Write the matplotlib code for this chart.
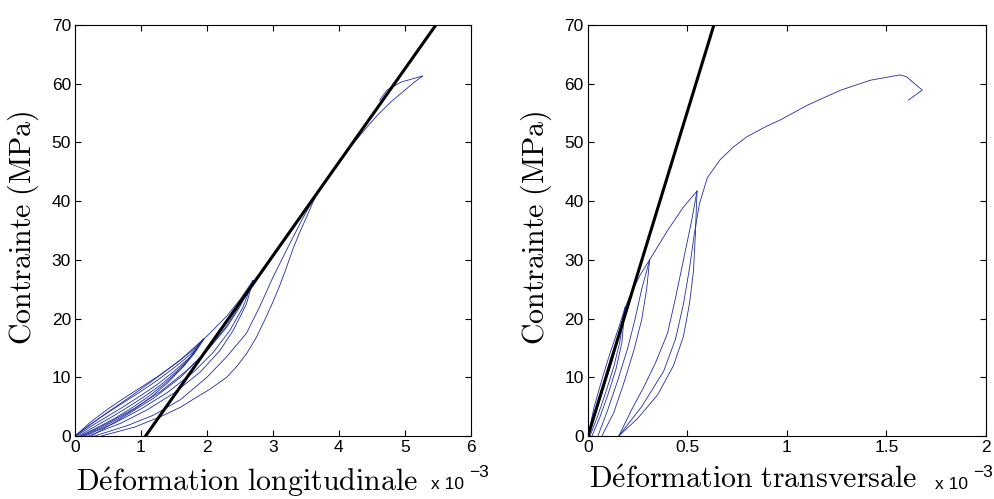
import matplotlib.pyplot as plt
import numpy as np

plt.rcParams['font.family'] = ['Liberation Sans', 'DejaVu Sans']
plt.rcParams['mathtext.fontset'] = 'cm'

# --- longitudinal strain (x 1e-3) vs stress (MPa), cyclic test ---
long_x = [
    [0, 0.25, 0.5, 0.75, 1.0, 1.25, 1.5, 1.75, 1.95],
    [0, 0.25, 0.5, 0.75, 1.0, 1.25, 1.5, 1.75, 1.95],
    [0.02, 0.25, 0.5, 0.75, 1.0, 1.25, 1.5, 1.75, 1.95],
    [0.05, 0.3, 0.55, 0.8, 1.05, 1.3, 1.55, 1.75, 1.95],
    [0.08, 0.35, 0.6, 0.85, 1.1, 1.35, 1.6, 1.8, 1.95],
    [0.12, 0.4, 0.65, 0.9, 1.15, 1.4, 1.65, 1.85, 1.95],
    [0, 0.4, 0.8, 1.2, 1.6, 2.0, 2.3, 2.5, 2.7],
    [0.1, 0.5, 0.9, 1.3, 1.7, 2.0, 2.3, 2.5, 2.7],
    [0.15, 0.6, 1.0, 1.4, 1.8, 2.1, 2.35, 2.55, 2.7],
    [0.2, 0.7, 1.1, 1.5, 1.9, 2.2, 2.4, 2.6, 2.7],
    [0.25, 0.7, 1.2, 1.6, 2.0, 2.3, 2.6, 3.0, 3.3, 3.7],
    [0.3, 0.8, 1.2, 1.6, 2.0, 2.3, 2.6, 2.8, 3.0, 3.2, 3.45, 3.7],
    [0.4, 0.9, 1.3, 1.6, 1.8, 2.05, 2.3, 2.45, 2.6, 2.75, 2.9, 3.0, 3.1,
     3.2, 3.3, 3.4, 3.5, 3.6, 3.7, 3.85, 4.0, 4.15, 4.3, 4.45, 4.6, 4.8,
     4.97, 5.15, 5.27],
    [5.27, 4.95, 4.73, 4.62],
]
long_y = [
    [0, 2.5, 4.6, 6.5, 8.3, 10.1, 12.1, 14.3, 16.5],
    [0, 2.1, 4.0, 5.8, 7.6, 9.5, 11.6, 13.9, 16.5],
    [0, 1.7, 3.4, 5.1, 6.9, 8.8, 11.0, 13.5, 16.5],
    [0, 1.6, 3.2, 4.9, 6.7, 8.7, 11.1, 13.4, 16.5],
    [0, 1.5, 3.0, 4.7, 6.6, 8.8, 11.4, 13.9, 16.5],
    [0, 1.4, 2.9, 4.6, 6.6, 9.0, 11.9, 14.8, 16.5],
    [0, 3.3, 6.4, 9.6, 13.0, 17.0, 20.4, 23.2, 26.5],
    [0, 2.2, 4.7, 7.6, 11.2, 14.5, 18.5, 22.0, 26.5],
    [0, 2.2, 4.6, 7.4, 10.9, 14.3, 18.0, 22.0, 26.5],
    [0, 2.2, 4.5, 7.3, 10.9, 14.6, 18.0, 22.5, 26.5],
    [0, 3.0, 6.5, 10.0, 14.5, 18.8, 24.0, 30.5, 35.5, 42],
    [0, 1.8, 3.6, 6.2, 10.0, 13.5, 17.5, 22.0, 27.0, 31.5, 37.0, 42],
    [0, 1.5, 3.3, 4.9, 6.3, 8.0, 10.0, 11.8, 14.0, 16.8, 20.3, 22.8, 25.5,
     28.5, 31.7, 34.5, 37.0, 39.6, 42.0, 44.4, 46.8, 48.9, 50.9, 52.9,
     54.8, 57.0, 58.6, 60.3, 61.3],
    [61.3, 60.3, 58.9, 57.2],
]

# --- transversal strain (x 1e-3) vs stress (MPa) ---
trans_x = [
    [0, 0.03, 0.07, 0.11, 0.15, 0.186],
    [0.005, 0.04, 0.08, 0.12, 0.155, 0.186],
    [0.01, 0.05, 0.09, 0.13, 0.16, 0.186],
    [0.02, 0.06, 0.1, 0.14, 0.17, 0.186],
    [0.186, 0.22, 0.26, 0.31],
    [0.05, 0.1, 0.15, 0.2, 0.236, 0.27, 0.31],
    [0.07, 0.13, 0.18, 0.23, 0.27, 0.295, 0.31],
    [0.31, 0.4, 0.48, 0.548],
    [0.155, 0.22, 0.28, 0.34, 0.40, 0.44, 0.48, 0.52, 0.548],
    [0.155, 0.25, 0.35, 0.43, 0.48, 0.51, 0.53, 0.54, 0.548],
    [0.155, 0.27, 0.38, 0.44, 0.48, 0.51, 0.535, 0.56, 0.6, 0.663, 0.73,
     0.8, 0.9, 0.965, 1.1, 1.27, 1.42, 1.568, 1.60, 1.68, 1.61],
]
trans_y = [
    [0, 4.8, 9.6, 14.0, 18.0, 21.8],
    [0, 4.0, 8.3, 12.6, 17.0, 21.8],
    [0, 3.5, 7.5, 11.8, 16.0, 21.8],
    [0, 3.2, 7.0, 11.3, 15.8, 21.8],
    [21.8, 24.5, 27.3, 30],
    [0, 4.5, 9.5, 15.0, 19.8, 25.0, 30],
    [0, 4.0, 9.0, 14.5, 19.8, 25.0, 30],
    [30, 35.0, 39.0, 41.7],
    [0, 4.5, 8.3, 12.5, 17.5, 23.5, 30.0, 36.5, 41.7],
    [0, 3.0, 7.0, 12.0, 17.0, 22.5, 28.0, 34.5, 41.7],
    [0, 5.0, 11.0, 16.5, 22.5, 28.5, 34.5, 39.5, 44.0, 47.0, 49.2,
     51.0, 52.8, 53.8, 56.3, 58.9, 60.6, 61.5, 61.2, 58.9, 57.2],
]

# linear fits (slope MPa per 1e-3, strain intercept)
long_slope, long_x0 = 15.9, 1.07
trans_slope, trans_x0 = 110.6, 0.0

blue = '#1f2e9e'
fig = plt.figure(figsize=(9.94, 4.99), dpi=100)
ax1 = fig.add_axes([0.0755, 0.1263, 0.398, 0.8236])
ax2 = fig.add_axes([0.5915, 0.1263, 0.4004, 0.8236])

for ax, xs, ys, slope, x0, xmax, xlab, lab_cx, exp_x in [
        (ax1, long_x, long_y, long_slope, long_x0, 6,
         r'$\mathrm{D\acute{e}formation\ longitudinale}$', 0.435, 0.9),
        (ax2, trans_x, trans_y, trans_slope, trans_x0, 2,
         r'$\mathrm{D\acute{e}formation\ transversale}$', 0.415, 0.872)]:
    for cx, cy in zip(xs, ys):
        ax.plot(cx, cy, color=blue, lw=0.6)
    lx = np.array([x0, x0 + 75 / slope])
    ax.plot(lx, slope * (lx - x0), color='black', lw=2.2)
    ax.set_xlim(0, xmax)
    ax.set_ylim(0, 70)
    ax.set_yticks(range(0, 71, 10))
    ax.tick_params(direction='in', top=True, right=True, labelsize=12.5,
                   length=4, pad=3)
    ax.set_xlabel(xlab, fontsize=21.5)
    ax.xaxis.set_label_coords(lab_cx, -0.072, transform=ax.transAxes)
    ax.xaxis.label.set_va('top')
    ax.set_ylabel(r'$\mathrm{Contrainte\ (MPa)}$', fontsize=21.5)
    ax.yaxis.set_label_coords(-0.085, 0.506, transform=ax.transAxes)
    ax.text(exp_x, -0.13, 'x 10', transform=ax.transAxes,
            fontsize=12.5, ha='left', va='baseline')
    ax.text(exp_x + 0.095, -0.10, '\u22123', transform=ax.transAxes,
            fontsize=12.5, ha='left', va='baseline')

ax2.set_xticks([0, 0.5, 1, 1.5, 2])
ax2.set_xticklabels(['0', '0.5', '1', '1.5', '2'])

fig.savefig('out.png', dpi=100)
